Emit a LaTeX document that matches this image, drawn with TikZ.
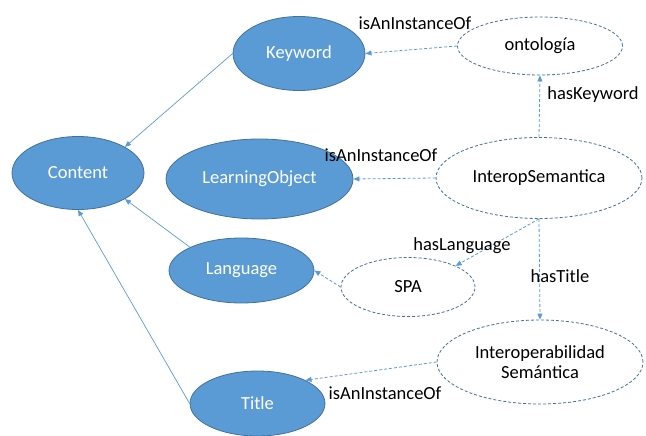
\documentclass[tikz,border=0pt]{standalone}
\usepackage{fontspec}
\setmainfont{Carlito}
\usetikzlibrary{shapes.geometric,arrows.meta}
\definecolor{officeblue}{HTML}{5B9BD5}
\definecolor{edgeblue}{HTML}{41719C}
\begin{document}
\begin{tikzpicture}[x=1pt,y=-1pt,
  font=\fontsize{18.5}{22}\selectfont,
  classnode/.style={ellipse,draw=edgeblue,line width=0.8pt,fill=officeblue,text=white,inner sep=0pt},
  instnode/.style={ellipse,draw=edgeblue,line width=0.8pt,dash pattern=on 3pt off 2pt,fill=white,text=black,inner sep=0pt,align=center},
  subarrow/.style={draw=officeblue,line width=0.7pt,-{Triangle[length=6pt,width=5pt]}},
  relarrow/.style={draw=officeblue,line width=0.8pt,dash pattern=on 3pt off 2pt,-{Triangle[length=6pt,width=5pt]}},
  rellabel/.style={text=black,inner sep=0pt}]
\useasboundingbox (0,0) rectangle (646,436);

% class ellipses
\node[classnode,minimum width=132pt,minimum height=73pt] (content) at (78,173) {Content};
\node[classnode,minimum width=132pt,minimum height=74pt] (keyword) at (299,53.5) {Keyword};
\node[classnode,minimum width=187pt,minimum height=80pt] (lobject) at (259.5,179) {LearningObject};
\node[classnode,minimum width=145pt,minimum height=65pt] (language) at (241.5,270.5) {Language};
\node[classnode,minimum width=135pt,minimum height=65pt] (title) at (257.5,403.5) {Title};

% instance ellipses
\node[instnode,minimum width=165pt,minimum height=58pt] (onto) at (540,46) {ontología};
\node[instnode,minimum width=206pt,minimum height=81pt] (interop) at (539,178) {InteropSemantica};
\node[instnode,minimum width=134pt,minimum height=59pt] (spa) at (408,287) {SPA};
\node[instnode,minimum width=206pt,minimum height=84pt] (interop2) at (540,362) {Interoperabilidad\\[-2pt]Semántica};

% subclass links
\draw[subarrow] (keyword.west) -- (content.north east);
\draw[subarrow] (language.north west) -- (content.south east);
\draw[subarrow] (title.west) -- (content.south);

% instance relations
\draw[relarrow] (onto.west) -- (keyword.east);
\draw[relarrow] (interop.north) -- (onto.south);
\draw[relarrow] (interop.west) -- (lobject.east);
\draw[relarrow] (interop.south) -- (spa.north east);
\draw[relarrow] (interop.south) -- (interop2.north);
\draw[relarrow] (spa.west) -- (language.east);
\draw[relarrow] (interop2.west) -- (title.north east);

% relation labels
\node[rellabel] (l1) at (415,23) {isAnInstanceOf};
\node[rellabel] (l2) at (593,95) {hasKeyword};
\node[rellabel] (l3) at (381,155) {isAnInstanceOf};
\node[rellabel] (l4) at (462,246) {hasLanguage};
\node[rellabel] (l5) at (560,276) {hasTitle};
\node[rellabel] (l6) at (385,393) {isAnInstanceOf};
\end{tikzpicture}
\end{document}
